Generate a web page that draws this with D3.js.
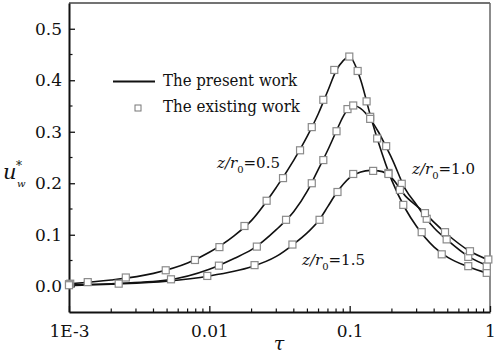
<!DOCTYPE html>
<html>
<head>
<meta charset="utf-8">
<script src="https://cdn.jsdelivr.net/npm/d3@7"></script>
<style>
  body { margin: 0; background: #fff; }
</style>
</head>
<body>
<div id="chart-area"></div>
<script>
// present work (solid lines)
const lineTau05 = [0.001, 0.002, 0.004, 0.007, 0.01, 0.015, 0.02, 0.03, 0.04, 0.05, 0.06, 0.07, 0.08, 0.09, 0.1, 0.11, 0.12, 0.14, 0.16, 0.2, 0.25, 0.3, 0.4, 0.5, 0.7, 1.0];
const lineU05   = [0.005, 0.012, 0.025, 0.045, 0.066, 0.098, 0.128, 0.192, 0.245, 0.292, 0.336, 0.380, 0.418, 0.438, 0.446, 0.428, 0.400, 0.333, 0.280, 0.205, 0.150, 0.116, 0.076, 0.056, 0.038, 0.024];

const lineTau10 = [0.001, 0.002, 0.005, 0.01, 0.015, 0.02, 0.03, 0.04, 0.05, 0.06, 0.07, 0.08, 0.09, 0.1, 0.11, 0.12, 0.14, 0.16, 0.18, 0.2, 0.25, 0.3, 0.35, 0.4, 0.5, 0.7, 1.0];
const lineU10   = [0.003, 0.005, 0.012, 0.033, 0.054, 0.071, 0.110, 0.145, 0.185, 0.228, 0.265, 0.300, 0.330, 0.347, 0.350, 0.345, 0.325, 0.300, 0.273, 0.248, 0.188, 0.158, 0.132, 0.113, 0.089, 0.058, 0.038];

const lineTau15 = [0.001, 0.002, 0.005, 0.01, 0.015, 0.02, 0.03, 0.04, 0.05, 0.06, 0.07, 0.08, 0.09, 0.1, 0.12, 0.14, 0.16, 0.18, 0.2, 0.25, 0.3, 0.35, 0.4, 0.5, 0.7, 1.0];
const lineU15   = [0.001, 0.004, 0.010, 0.020, 0.029, 0.038, 0.058, 0.082, 0.104, 0.127, 0.155, 0.180, 0.198, 0.211, 0.222, 0.225, 0.224, 0.220, 0.210, 0.175, 0.156, 0.140, 0.124, 0.100, 0.070, 0.050];

// existing work (squares)
const sqTau05 = [0.00102, 0.00136, 0.00254, 0.00489, 0.0079, 0.0118, 0.0178, 0.0256, 0.0335, 0.0443, 0.0537, 0.0649, 0.0777, 0.0994, 0.114, 0.132, 0.140, 0.157, 0.189, 0.241, 0.326, 0.453, 0.700, 0.948];
const sqU05   = [0.005, 0.008, 0.017, 0.031, 0.051, 0.076, 0.117, 0.166, 0.210, 0.264, 0.309, 0.362, 0.420, 0.446, 0.418, 0.359, 0.329, 0.287, 0.220, 0.158, 0.105, 0.062, 0.039, 0.026];

const sqTau10 = [0.001, 0.00533, 0.0117, 0.0218, 0.0352, 0.0537, 0.0649, 0.0806, 0.0965, 0.106, 0.14, 0.182, 0.235, 0.354, 0.491, 0.700, 0.948];
const sqU10   = [0.004, 0.0135, 0.040, 0.077, 0.129, 0.200, 0.245, 0.301, 0.344, 0.351, 0.325, 0.272, 0.199, 0.131, 0.091, 0.057, 0.039];

const sqTau15 = [0.001, 0.00226, 0.00967, 0.021, 0.0391, 0.061, 0.0819, 0.106, 0.147, 0.189, 0.228, 0.344, 0.478, 0.720, 0.973];
const sqU15   = [0.002, 0.005, 0.020, 0.041, 0.081, 0.129, 0.183, 0.218, 0.224, 0.218, 0.187, 0.142, 0.105, 0.068, 0.052];

const xTicks = [0.001, 0.01, 0.1, 1];
const xTickLabels = ["1E-3", "0.01", "0.1", "1"];
const yTicks = [0.0, 0.1, 0.2, 0.3, 0.4, 0.5];

const FONT = 'DejaVu Serif';

const zip = (a, b) => a.map((v, i) => [v, b[i]]);
const lines = [zip(lineTau05, lineU05), zip(lineTau10, lineU10), zip(lineTau15, lineU15)];
const squares = [zip(sqTau05, sqU05), zip(sqTau10, sqU10), zip(sqTau15, sqU15)];

const config = {
    width: 498,
    height: 354,
    margin: { left: 69, right: 8, top: 3, bottom: 42 }
};
config.chartWidth = config.width - config.margin.left - config.margin.right;
config.chartHeight = config.height - config.margin.top - config.margin.bottom;

const svg = d3.select('#chart-area')
    .append('svg')
    .attr('width', config.width)
    .attr('height', config.height)
    .attr('font-family', FONT);

const g = svg.append('g')
    .attr('transform', `translate(${config.margin.left}, ${config.margin.top})`);

const xScale = d3.scaleLog().domain([1e-3, 1]).range([0, config.chartWidth]);
const yScale = d3.scaleLinear().domain([-0.05, 0.55]).range([config.chartHeight, 0]);

// frame (top + right)
g.append('line').attr('x1', 0).attr('x2', config.chartWidth).attr('y1', 0).attr('y2', 0)
    .attr('stroke', '#444').attr('stroke-width', 1.5);
g.append('line').attr('x1', config.chartWidth).attr('x2', config.chartWidth).attr('y1', 0).attr('y2', config.chartHeight)
    .attr('stroke', '#666').attr('stroke-width', 1.5);

// x minor ticks
const xMinor = [];
[0.001, 0.01, 0.1].forEach(d => { for (let k = 2; k <= 9; k++) xMinor.push(d * k); });
g.append('g').selectAll('line').data(xMinor).join('line')
    .attr('x1', d => xScale(d)).attr('x2', d => xScale(d))
    .attr('y1', config.chartHeight).attr('y2', config.chartHeight - 3.5)
    .attr('stroke', '#111').attr('stroke-width', 1.2);

// x axis
const xAxisGroup = g.append('g')
    .attr('transform', `translate(0, ${config.chartHeight})`)
    .call(d3.axisBottom(xScale).tickValues(xTicks).tickFormat((d, i) => xTickLabels[i])
        .tickSizeInner(-6).tickSizeOuter(0).tickPadding(13))
    .attr('font-family', FONT).attr('font-size', 17);
xAxisGroup.select('.domain').attr('stroke', '#111').attr('stroke-width', 2);
xAxisGroup.selectAll('.tick line').attr('stroke', '#111').attr('stroke-width', 1.3);
xAxisGroup.selectAll('text').attr('fill', '#111');

// y minor ticks
const yMinor = [0.05, 0.15, 0.25, 0.35, 0.45];
g.append('g').selectAll('line').data(yMinor).join('line')
    .attr('x1', 0).attr('x2', 3.5)
    .attr('y1', d => yScale(d)).attr('y2', d => yScale(d))
    .attr('stroke', '#111').attr('stroke-width', 1.2);

// y axis
const yAxisGroup = g.append('g')
    .call(d3.axisLeft(yScale).tickValues(yTicks).tickFormat(d3.format('.1f'))
        .tickSizeInner(-6).tickSizeOuter(0).tickPadding(7))
    .attr('font-family', FONT).attr('font-size', 17);
yAxisGroup.select('.domain').attr('stroke', '#111').attr('stroke-width', 2);
yAxisGroup.selectAll('.tick line').attr('stroke', '#111').attr('stroke-width', 1.3);
yAxisGroup.selectAll('text').attr('fill', '#111');

// curves
const lineGen = d3.line()
    .x(d => xScale(d[0]))
    .y(d => yScale(d[1]))
    .curve(d3.curveMonotoneX);

g.append('g').selectAll('path').data(lines).join('path')
    .attr('d', lineGen)
    .attr('fill', 'none')
    .attr('stroke', '#111')
    .attr('stroke-width', 1.6);

const sq = 7;
squares.forEach(series => {
    g.append('g').selectAll('rect').data(series).join('rect')
        .attr('x', d => xScale(d[0]) - sq / 2)
        .attr('y', d => yScale(d[1]) - sq / 2)
        .attr('width', sq).attr('height', sq)
        .attr('fill', '#fff')
        .attr('stroke', '#8a8a8a')
        .attr('stroke-width', 1.2);
});

// legend
svg.append('line').attr('x1', 113).attr('x2', 155).attr('y1', 81.5).attr('y2', 81.5)
    .attr('stroke', '#111').attr('stroke-width', 1.8);
svg.append('text').attr('x', 163).attr('y', 86).attr('font-size', 16)
    .attr('textLength', 134).attr('lengthAdjust', 'spacingAndGlyphs')
    .attr('fill', '#111').text('The present work');
svg.append('rect').attr('x', 135).attr('y', 105).attr('width', 6).attr('height', 6)
    .attr('fill', '#fff').attr('stroke', '#777').attr('stroke-width', 1);
svg.append('text').attr('x', 163).attr('y', 112).attr('font-size', 16)
    .attr('textLength', 137).attr('lengthAdjust', 'spacingAndGlyphs')
    .attr('fill', '#111').text('The existing work');

// curve annotations
function annot(x, y, value) {
    const t = svg.append('text').attr('x', x).attr('y', y)
        .attr('font-size', 15).attr('fill', '#111');
    t.append('tspan').attr('font-style', 'italic').text('z/r');
    t.append('tspan').attr('dy', 5).attr('font-size', 10).text('0');
    t.append('tspan').attr('dy', -5).text('=' + value);
}
annot(217, 168, '0.5');
annot(412, 174, '1.0');
annot(302, 265, '1.5');

// axis titles
svg.append('text').attr('x', 279).attr('y', 350)
    .attr('text-anchor', 'middle').attr('font-style', 'italic')
    .attr('font-size', 19).attr('fill', '#111').text('τ');

const yl = svg.append('text').attr('x', 3).attr('y', 179)
    .attr('font-size', 21).attr('fill', '#111');
yl.append('tspan').attr('font-style', 'italic').text('u');
yl.append('tspan').attr('x', 17).attr('y', 187).attr('font-style', 'italic').attr('font-size', 10).text('w');
yl.append('tspan').attr('x', 16).attr('y', 170).attr('font-size', 12).text('*');
</script>
</body>
</html>
